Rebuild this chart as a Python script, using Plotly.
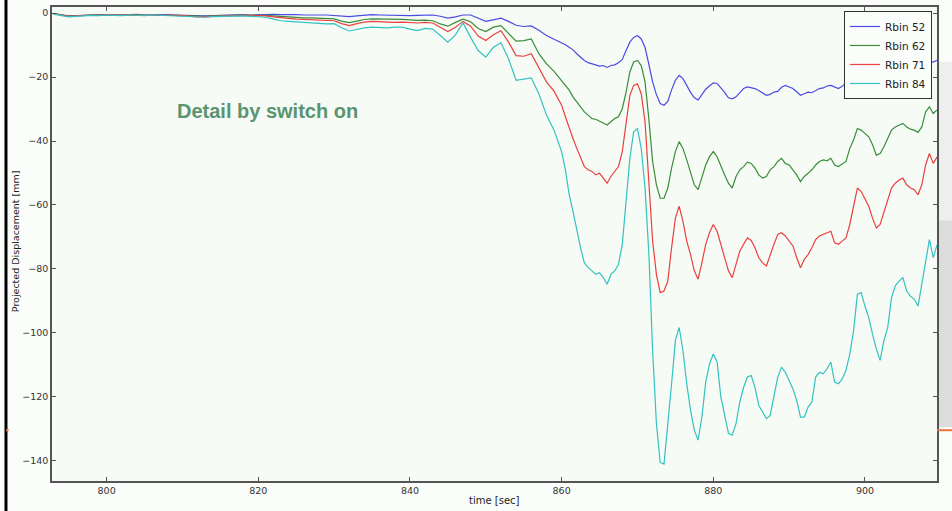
import numpy as np
import plotly.graph_objects as go

# time axis: 1 s steps up to 859 s, then 0.5 s steps
time_sec = np.concatenate([np.arange(793, 860, 1.0), np.arange(860, 910, 0.5)])

rbin52 = [
    -0.2, -0.5, -0.9, -0.8, -0.6, -0.6, -0.5, -0.6, -0.5, -0.6,
    -0.5, -0.4, -0.6, -0.5, -0.6, -0.5, -0.6, -0.7, -0.8, -1.0,
    -0.9, -0.8, -0.7, -0.6, -0.6, -0.5, -0.6, -0.5, -0.4, -0.4,
    -0.5, -0.4, -0.5, -0.6, -0.5, -0.6, -0.6, -0.7, -0.9, -1.1,
    -0.9, -0.6, -0.5, -0.6, -0.7, -0.8, -0.8,
    -0.8, -0.7, -0.6, -0.6, -1.0, -1.6, -1.2, -0.6, -0.6, -1.6,
    -2.6, -2.1, -1.6, -2.6, -3.8, -4.2, -4.0, -5.4, -7.0, -8.2,
    -9.3, -9.9, -10.7, -11.5, -12.7, -13.8, -14.8, -15.5, -15.9, -16.2,
    -16.6, -16.4, -17.0, -16.4, -16.2, -15.5, -14.5, -11.7, -9.1, -7.6,
    -7.0, -8.1, -10.7, -16.0, -21.5, -25.5, -28.3, -28.8, -27.6, -24.0,
    -21.0, -19.5, -20.5, -22.6, -24.8, -26.5, -27.2, -25.5, -23.8, -22.8,
    -21.8, -22.0, -23.3, -24.8, -26.5, -26.8, -26.2, -25.0, -23.6, -23.1,
    -23.3, -23.6, -24.2, -24.9, -25.7, -25.4, -24.7, -24.5, -23.2, -22.6,
    -23.2, -23.6, -24.6, -25.7, -25.2, -24.7, -24.9, -24.2, -23.6, -23.4,
    -22.8, -22.6, -23.2, -23.6, -22.9, -21.8, -21.6, -21.2, -21.0, -21.5,
    -22.0, -21.6, -21.2, -21.6, -22.1, -21.6, -21.2, -21.0, -21.3, -21.0,
    -20.5, -19.6, -18.6, -17.6, -17.0, -16.2, -15.5, -15.0, -15.3, -14.8,
]

rbin62 = [
    -0.1, -0.6, -1.0, -0.9, -0.7, -0.6, -0.6, -0.5, -0.6, -0.6,
    -0.5, -0.5, -0.6, -0.6, -0.5, -0.6, -0.7, -0.8, -0.9, -1.1,
    -1.0, -0.9, -0.8, -0.7, -0.7, -0.6, -0.7, -0.6, -0.7, -0.9,
    -1.1, -1.2, -1.4, -1.5, -1.5, -1.6, -1.7, -1.8, -2.5, -3.0,
    -2.5, -2.0, -1.8, -1.8, -1.9, -2.0, -2.0,
    -2.1, -2.3, -2.2, -2.4, -3.4, -4.1, -2.9, -1.9, -2.7, -4.8,
    -5.8, -4.4, -3.9, -6.5, -8.8, -8.6, -8.1, -12.7, -15.8, -18.2,
    -21.0, -22.6, -24.1, -26.2, -27.8, -29.3, -30.9, -31.9, -33.0, -33.2,
    -33.8, -34.2, -35.0, -34.0, -33.0, -32.4, -29.9, -24.7, -18.4, -15.3,
    -14.8, -16.4, -21.5, -33.0, -46.4, -53.7, -57.9, -57.9, -54.7, -48.5,
    -43.3, -40.2, -42.3, -45.9, -49.5, -53.7, -55.2, -51.6, -47.5, -44.9,
    -43.3, -44.9, -48.0, -50.6, -53.2, -54.7, -51.1, -49.0, -48.0, -46.6,
    -47.0, -48.5, -50.6, -51.6, -51.1, -49.0, -48.0, -46.4, -45.4, -47.0,
    -47.5, -49.0, -50.6, -52.7, -51.1, -50.1, -49.0, -47.5, -46.4, -45.9,
    -46.2, -45.4, -47.5, -48.0, -47.3, -46.4, -42.3, -39.7, -36.1, -36.6,
    -37.6, -38.7, -41.2, -44.4, -43.9, -41.8, -39.2, -36.6, -35.6, -35.0,
    -34.5, -35.6, -36.3, -36.6, -37.3, -35.6, -30.9, -29.3, -31.4, -30.3,
]

rbin71 = [
    -0.2, -0.6, -1.0, -0.9, -0.7, -0.6, -0.6, -0.6, -0.5, -0.6,
    -0.6, -0.5, -0.6, -0.6, -0.6, -0.6, -0.7, -0.8, -1.0, -1.2,
    -1.1, -1.0, -0.9, -0.8, -0.8, -0.7, -0.8, -0.8, -0.9, -1.2,
    -1.5, -1.7, -1.9, -2.0, -2.1, -2.2, -2.3, -2.4, -3.3, -3.9,
    -3.3, -2.8, -2.6, -2.7, -2.9, -2.9, -2.8,
    -2.9, -3.1, -2.9, -3.1, -4.4, -5.8, -4.4, -2.6, -4.1, -7.2,
    -8.6, -6.8, -5.5, -9.1, -13.3, -13.5, -12.7, -16.9, -21.5, -24.4,
    -28.8, -32.4, -36.1, -39.2, -42.3, -45.4, -48.0, -49.0, -49.5, -50.6,
    -50.1, -51.6, -53.2, -51.1, -49.5, -48.0, -43.3, -34.0, -25.7, -22.6,
    -22.1, -25.2, -34.0, -52.7, -71.3, -81.7, -87.4, -86.9, -83.8, -73.4,
    -64.1, -60.4, -65.1, -71.3, -75.5, -80.6, -83.2, -78.1, -72.3, -68.7,
    -66.1, -68.2, -72.3, -76.5, -80.6, -82.7, -78.6, -74.4, -72.3, -70.3,
    -71.1, -73.4, -76.5, -78.1, -79.1, -75.5, -72.3, -69.2, -68.7, -69.7,
    -71.3, -72.8, -76.5, -79.6, -77.0, -75.5, -73.4, -70.8, -69.7, -69.2,
    -68.7, -68.2, -71.8, -72.3, -71.3, -70.3, -66.1, -60.9, -54.7, -55.8,
    -57.9, -60.4, -64.1, -67.2, -66.1, -62.5, -58.9, -54.7, -53.2, -52.2,
    -51.6, -53.7, -54.7, -55.2, -56.8, -53.7, -47.5, -43.9, -47.0, -45.0,
]

rbin84 = [
    -0.3, -0.8, -1.2, -1.0, -0.8, -0.7, -0.8, -0.6, -0.7, -0.8,
    -0.6, -0.7, -0.8, -0.6, -0.7, -0.8, -0.9, -1.0, -1.2, -1.4,
    -1.3, -1.1, -1.0, -0.9, -1.0, -0.9, -1.0, -1.1, -1.3, -1.9,
    -2.4, -2.6, -2.8, -3.0, -3.1, -3.3, -3.4, -3.3, -4.6, -5.6,
    -5.1, -4.6, -4.4, -4.6, -4.6, -4.4, -4.4,
    -5.0, -5.5, -4.8, -5.0, -7.0, -9.1, -6.8, -3.1, -7.6, -11.7,
    -13.8, -10.7, -9.3, -14.3, -21.0, -20.7, -20.3, -25.2, -31.9, -36.6,
    -43.3, -49.0, -56.8, -62.0, -68.2, -73.4, -78.1, -79.6, -80.6, -81.7,
    -81.2, -82.7, -84.8, -81.7, -80.6, -78.6, -72.3, -58.9, -45.4, -37.1,
    -36.1, -42.3, -54.7, -75.0, -105.5, -128.3, -140.5, -141.0, -129.4, -115.9,
    -102.4, -98.3, -105.5, -115.9, -124.2, -130.4, -133.5, -126.3, -115.4, -109.7,
    -106.6, -109.1, -120.1, -126.3, -131.4, -132.0, -128.3, -121.6, -117.0, -113.8,
    -113.3, -117.0, -122.7, -124.7, -126.8, -125.8, -120.1, -113.8, -110.7, -112.3,
    -114.9, -117.5, -121.1, -126.3, -126.3, -123.2, -121.6, -113.8, -112.3, -112.8,
    -111.2, -109.1, -115.4, -115.9, -114.4, -111.7, -106.6, -99.3, -87.9, -87.4,
    -91.6, -95.2, -100.4, -105.0, -108.6, -102.4, -98.3, -89.0, -85.3, -83.8,
    -82.7, -86.9, -88.5, -89.5, -91.6, -84.8, -77.5, -70.8, -76.5, -72.5,
]

series_names = ["Rbin 52", "Rbin 62", "Rbin 71", "Rbin 84"]
series_values = [rbin52, rbin62, rbin71, rbin84]
series_colors = ["#4b4be2", "#3b8c3b", "#ec3f3f", "#33c2c2"]

x_ticks = [800, 820, 840, 860, 880, 900]
y_ticks = [0, -20, -40, -60, -80, -100, -120, -140]

fig = go.Figure()
for name, vals, col in zip(series_names, series_values, series_colors):
    n = min(len(vals), len(time_sec))
    fig.add_trace(go.Scatter(x=time_sec[:n], y=vals[:n], mode="lines", name=name,
                             line=dict(color=col, width=1.2)))

font_main = "DejaVu Sans"
axis_common = dict(showline=True, linecolor="#555555", linewidth=1.5, mirror="ticks",
                   ticks="inside", ticklen=4, tickcolor="#555555", showgrid=False,
                   zeroline=False, tickfont=dict(family=font_main, size=9.5, color="#333333"))

fig.update_layout(
    width=952, height=511,
    margin=dict(l=52, r=15, t=5, b=30),
    paper_bgcolor="#fbfdfa",
    plot_bgcolor="#f6fbf5",
    showlegend=True,
    legend=dict(x=0.9944, y=0.9916, xanchor="right", yanchor="top",
                bgcolor="#fbfdfb", bordercolor="#333333", borderwidth=1,
                font=dict(family=font_main, size=10.5, color="#222222"),
                itemwidth=30, tracegroupgap=0),
    xaxis=dict(range=[792.8, 909.5], tickvals=x_ticks, **axis_common),
    yaxis=dict(range=[-146.3, 1.9], tickvals=y_ticks, **axis_common),
    annotations=[
        dict(text="<b>Detail by switch on</b>", xref="paper", yref="paper",
             x=0.2437, y=0.781, xanchor="center", yanchor="middle", showarrow=False,
             font=dict(family="Liberation Sans", size=20, color="#5b9470")),
        dict(text="Projected Displacement [mm]", xref="paper", yref="paper",
             x=-0.0418, y=0.506, xanchor="center", yanchor="middle", showarrow=False,
             textangle=-90, font=dict(family=font_main, size=9.5, color="#222222")),
        dict(text="time [sec]", xref="paper", yref="paper",
             x=0.5, y=-0.042, xanchor="center", yanchor="middle", showarrow=False,
             font=dict(family=font_main, size=10, color="#222222")),
    ],
    shapes=[
        dict(type="line", xref="paper", yref="paper", x0=-0.052, x1=-0.052,
             y0=-0.07, y1=1.02, line=dict(color="#000000", width=3)),
        dict(type="rect", xref="paper", yref="paper", x0=1.0023, x1=1.02,
             y0=0.55, y1=0.8845, line=dict(width=0), fillcolor="#eeeeee"),
        dict(type="rect", xref="paper", yref="paper", x0=1.0023, x1=1.02,
             y0=0.1134, y1=0.55, line=dict(width=0), fillcolor="#dcdcdc"),
        dict(type="line", xref="paper", yref="paper", x0=1.0, x1=1.02,
             y0=0.1071, y1=0.1071, line=dict(color="#e8743b", width=2)),
        dict(type="line", xref="paper", yref="paper", x0=-0.052, x1=-0.049,
             y0=0.1071, y1=0.1071, line=dict(color="#e8743b", width=2)),
    ],
)

fig.write_html("out.html")
